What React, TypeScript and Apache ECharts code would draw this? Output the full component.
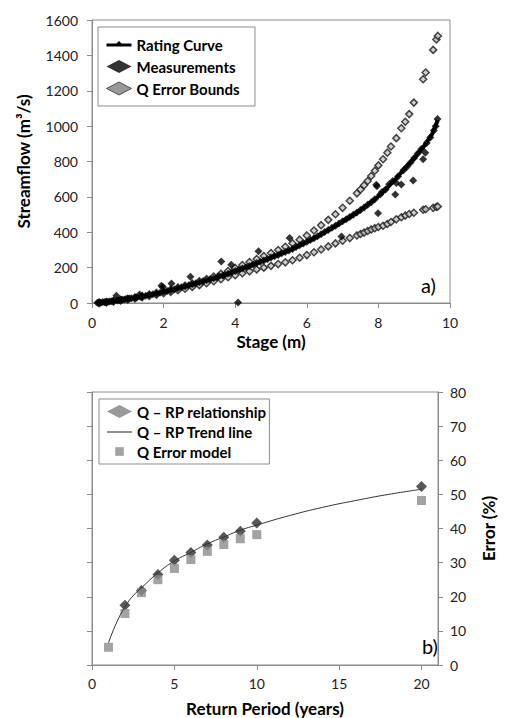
import React, { useEffect, useRef } from "react";
import * as echarts from "echarts";

// ---------- Panel a) data ----------
const ratingStage = [0.1, 0.25, 0.5, 0.75, 1, 1.25, 1.5, 1.75, 2, 2.25, 2.5, 2.75, 3, 3.25, 3.5, 3.75, 4, 4.25, 4.5, 4.75, 5, 5.25, 5.5, 5.75, 6, 6.25, 6.5, 6.75, 7, 7.25, 7.5, 7.75, 8, 8.25, 8.5, 8.75, 9, 9.25, 9.5, 9.66];
const ratingQ = [0, 2, 8, 15, 22, 30, 40, 50, 62, 74, 88, 102, 116, 130, 145, 162, 180, 198, 216, 236, 256, 276, 297, 320, 345, 372, 400, 429, 460, 492, 525, 562, 604, 652, 705, 765, 818, 880, 955, 1035];

const boundStage = [0.2, 0.4, 0.6, 0.8, 1.0, 1.2, 1.4, 1.6, 1.8, 2.0, 2.2, 2.4, 2.6, 2.8, 3.0, 3.2, 3.4, 3.6, 3.8, 4.0, 4.2, 4.4, 4.6, 4.8, 5.0, 5.2, 5.4, 5.6, 5.8, 6.0, 6.2, 6.4, 6.6, 6.8, 7.0, 7.2, 7.4, 7.5, 7.6, 7.7, 7.8, 7.9, 8.0, 8.13, 8.25, 8.35, 8.5, 8.64, 8.75, 8.86, 8.99, 9.25, 9.32, 9.53, 9.62, 9.66];
const upperQ = [1, 5, 11, 17, 24, 31, 39, 48, 57, 66, 76, 87, 98, 110, 123, 136, 150, 165, 181, 198, 215, 232, 249, 266, 283, 300, 318, 338, 358, 382, 410, 440, 470, 502, 538, 578, 620, 642, 666, 690, 718, 748, 778, 813, 850, 885, 932, 988, 1025, 1068, 1133, 1265, 1303, 1431, 1490, 1510];
const lowerQ = [1, 4, 9, 15, 20, 26, 33, 40, 47, 55, 63, 72, 81, 91, 101, 112, 123, 134, 146, 157, 168, 179, 190, 200, 210, 220, 230, 242, 256, 271, 287, 303, 320, 337, 352, 367, 382, 390, 398, 407, 416, 423, 430, 437, 447, 458, 473, 485, 494, 503, 510, 527, 530, 538, 543, 546];

const measStage = [0.15, 0.2, 0.25, 0.3, 0.35, 0.4, 0.45, 0.5, 0.55, 0.6, 0.68, 0.7, 0.75, 0.8, 0.85, 0.9, 0.95, 1.0, 1.05, 1.1, 1.2, 1.25, 1.33, 1.35, 1.4, 1.5, 1.6, 1.7, 1.8, 1.9, 1.94, 1.98, 2.0, 2.1, 2.22, 2.2, 2.3, 2.4, 2.5, 2.6, 2.7, 2.75, 2.8, 2.9, 3.0, 3.1, 3.2, 3.3, 3.4, 3.5, 3.55, 3.61, 3.65, 3.7, 3.8, 3.89, 3.9, 4.0, 4.08, 4.1, 4.2, 4.3, 4.4, 4.5, 4.6, 4.65, 4.7, 4.8, 4.9, 5.0, 5.1, 5.2, 5.3, 5.4, 5.52, 5.5, 5.6, 5.7, 5.8, 5.9, 6.0, 6.1, 6.2, 6.3, 6.4, 6.5, 6.6, 6.7, 6.8, 6.9, 6.97, 7.0, 7.1, 7.2, 7.3, 7.4, 7.5, 7.6, 7.7, 7.8, 7.9, 7.94, 7.96, 7.99, 8.05, 8.1, 8.2, 8.3, 8.4, 8.47, 8.5, 8.55, 8.64, 8.7, 8.8, 8.9, 8.97, 9.0, 9.1, 9.2, 9.25, 9.31, 9.35, 9.45, 9.55, 9.6, 9.65];
const measQ = [1, 3, 2, 5, 4, 6, 7, 9, 10, 12, 41, 14, 16, 18, 19, 20, 22, 23, 25, 27, 30, 31, 48, 35, 37, 41, 45, 49, 53, 58, 97, 90, 63, 68, 110, 72, 77, 84, 89, 95, 100, 148, 106, 112, 117, 123, 128, 134, 140, 146, 152, 235, 155, 158, 166, 216, 172, 181, 3, 188, 195, 202, 209, 217, 226, 292, 232, 240, 248, 257, 264, 272, 281, 289, 367, 297, 306, 316, 326, 336, 346, 356, 366, 377, 389, 401, 413, 425, 437, 449, 376, 462, 474, 486, 499, 512, 526, 540, 555, 570, 586, 668, 660, 508, 614, 628, 642, 672, 690, 614, 678, 715, 670, 750, 770, 795, 693, 820, 845, 870, 813, 850, 905, 935, 975, 1000, 1040];

const stageTicks = [0, 2, 4, 6, 8, 10];
const flowTicks = [0, 200, 400, 600, 800, 1000, 1200, 1400, 1600];

// ---------- Panel b) data ----------
const rpYears = [2, 3, 4, 5, 6, 7, 8, 9, 10, 20];
const rpError = [17.5, 21.8, 26.5, 30.7, 33, 35.2, 37.4, 39.2, 41.6, 52.3];
const modelYears = [1, 2, 3, 4, 5, 6, 7, 8, 9, 10, 20];
const modelError = [5.2, 15.1, 21.2, 25, 28.3, 30.9, 33.3, 35.3, 37, 38.2, 48.2];
const trendYears = [1, 1.5, 2, 2.5, 3, 4, 5, 6, 7, 8, 9, 10, 12, 14, 16, 18, 20];
const trendError = [6.5, 12.5, 17, 20.3, 22.6, 27, 30.5, 33, 35.5, 37.5, 39.5, 41, 43.8, 46.2, 48.2, 50, 51.5];
const errorTicks = [0, 10, 20, 30, 40, 50, 60, 70, 80];
const periodTicks = [0, 5, 10, 15, 20];

const FONT = "Lato";
const AXIS = "#8c8c8c";
const LABEL = "#222";

const ICON_RATING = "path://M0,0M0,5.5h25v3h-25zM10,5.5L12.5,3L15,5.5zM25,13";
const ICON_TREND = "path://M0,0M0,6.5h25v1h-25zM25,13";
const ICON_SQUARE = "path://M0,0M2,2L10,2L10,10L2,10ZM12,12";

export default function App() {
  const ref = useRef<HTMLDivElement>(null);

  useEffect(() => {
    if (!ref.current) return;
    const chart = echarts.init(ref.current, null, { renderer: "svg" });

    const pairs = (xs: number[], ys: number[]) => xs.map((x, i) => [x, ys[i]]);

    const tickLabel = { fontFamily: FONT, fontSize: 14, color: LABEL, formatter: (v: number) => String(v) };
    const titleStyle = { fontFamily: FONT, fontSize: 17, fontWeight: "bold", color: "#000" };
    const axLine = { show: true, lineStyle: { color: AXIS, width: 1 } };
    const axTick = { show: true, length: 5, lineStyle: { color: AXIS, width: 1 } };
    const boundStyle = { color: "#c4c4c4", borderColor: "#1a1a1a", borderWidth: 1.5 };

    const option: any = {
      animation: false,
      textStyle: { fontFamily: FONT },
      grid: [
        { left: 92, top: 20, width: 358, height: 283, show: true, borderColor: AXIS, borderWidth: 1 },
        { left: 92, top: 392, width: 358, height: 274, show: true, borderColor: AXIS, borderWidth: 1 },
      ],
      xAxis: [
        {
          gridIndex: 0, type: "value",
          min: stageTicks[0], max: stageTicks[stageTicks.length - 1], interval: 2,
          name: "Stage (m)", nameLocation: "middle", nameGap: 30, nameTextStyle: titleStyle,
          axisLine: axLine, axisTick: axTick, splitLine: { show: false },
          axisLabel: { ...tickLabel, margin: 12 },
        },
        {
          gridIndex: 1, type: "value",
          min: periodTicks[0], max: 21, interval: 5,
          name: "Return Period (years)", nameLocation: "middle", nameGap: 35, nameTextStyle: titleStyle,
          axisLine: axLine, axisTick: axTick, splitLine: { show: false },
          axisLabel: { ...tickLabel, margin: 11, showMaxLabel: false },
        },
      ],
      yAxis: [
        {
          gridIndex: 0, type: "value",
          min: flowTicks[0], max: flowTicks[flowTicks.length - 1], interval: 200,
          name: "Streamflow (m³/s)", nameLocation: "middle", nameRotate: 90, nameGap: 60, nameTextStyle: titleStyle,
          axisLine: axLine, axisTick: axTick, splitLine: { show: false },
          axisLabel: { ...tickLabel, margin: 14 },
        },
        {
          gridIndex: 1, type: "value", position: "left",
          min: errorTicks[0], max: errorTicks[errorTicks.length - 1], interval: 10,
          axisLine: axLine, axisTick: axTick, splitLine: { show: false },
          axisLabel: { show: false },
        },
        {
          gridIndex: 1, type: "value", position: "right",
          min: errorTicks[0], max: errorTicks[errorTicks.length - 1], interval: 10,
          name: "Error (%)", nameLocation: "middle", nameRotate: 90, nameGap: 42, nameTextStyle: titleStyle,
          axisLine: axLine, axisTick: axTick, splitLine: { show: false },
          axisLabel: { ...tickLabel, margin: 12 },
        },
      ],
      legend: [
        {
          left: 98, top: 27, orient: "vertical",
          data: [
            { name: "Rating Curve", icon: ICON_RATING, itemStyle: { color: "#000" } },
            { name: "Measurements", icon: "diamond", itemStyle: { color: "#000" } },
            { name: "Q Error Bounds", icon: "diamond", itemStyle: { color: "#808080", borderColor: "#333", borderWidth: 1 } },
          ],
          borderColor: AXIS, borderWidth: 1, padding: [10, 15, 10, 8],
          itemGap: 7, itemWidth: 25, itemHeight: 13,
          textStyle: { fontFamily: FONT, fontSize: 15, fontWeight: "bold", color: "#000" },
        },
        {
          left: 99, top: 399, orient: "vertical",
          data: [
            { name: "Q – RP relationship", icon: "diamond", itemStyle: { color: "#808080" } },
            { name: "Q – RP Trend line", icon: ICON_TREND, itemStyle: { color: "#222" } },
            { name: "Q Error model", icon: ICON_SQUARE, itemStyle: { color: "#8c8c8c" } },
          ],
          borderColor: AXIS, borderWidth: 1, padding: [5, 3, 5, 8],
          itemGap: 5, itemWidth: 25, itemHeight: 13,
          textStyle: { fontFamily: FONT, fontSize: 15, fontWeight: "bold", color: "#000" },
        },
      ],
      series: [
        {
          name: "Q Error Bounds", type: "scatter", xAxisIndex: 0, yAxisIndex: 0,
          symbol: "diamond", symbolSize: 7, itemStyle: boundStyle,
          data: pairs(boundStage, upperQ),
        },
        {
          name: "Q Error Bounds", type: "scatter", xAxisIndex: 0, yAxisIndex: 0,
          symbol: "diamond", symbolSize: 7, itemStyle: boundStyle,
          data: pairs(boundStage, lowerQ),
        },
        {
          name: "Rating Curve", type: "line", xAxisIndex: 0, yAxisIndex: 0,
          symbol: "none", showSymbol: false,
          lineStyle: { color: "#000", width: 4 }, itemStyle: { color: "#000" },
          data: pairs(ratingStage, ratingQ),
        },
        {
          name: "Measurements", type: "scatter", xAxisIndex: 0, yAxisIndex: 0,
          symbol: "diamond", symbolSize: 8,
          itemStyle: { color: "#000" },
          data: pairs(measStage, measQ),
        },
        {
          name: "Q – RP relationship", type: "scatter", xAxisIndex: 1, yAxisIndex: 2,
          symbol: "diamond", symbolSize: 11,
          itemStyle: { color: "#808080" },
          data: rpYears.map((x, i) => ({ value: [x, rpError[i]], itemStyle: { color: "#2e2e2e" } })),
        },
        {
          name: "Q Error model", type: "scatter", xAxisIndex: 1, yAxisIndex: 2,
          symbol: "rect", symbolSize: 9,
          itemStyle: { color: "#8c8c8c" },
          data: pairs(modelYears, modelError),
        },
        {
          name: "Q – RP Trend line", type: "line", xAxisIndex: 1, yAxisIndex: 2,
          smooth: true, showSymbol: false, symbol: "none",
          lineStyle: { color: "#333", width: 1 }, itemStyle: { color: "#333" },
          data: pairs(trendYears, trendError),
        },
      ],
      graphic: [
        { type: "text", left: 421, top: 275, style: { text: "a)", font: `20px ${FONT}`, fill: "#000" } },
        { type: "text", left: 422, top: 636, style: { text: "b)", font: `20px ${FONT}`, fill: "#000" } },
      ],
    };

    chart.setOption(option);
    return () => chart.dispose();
  }, []);

  return <div ref={ref} style={{ position: "absolute", left: 0, top: 0, width: 505, height: 718 }} />;
}
